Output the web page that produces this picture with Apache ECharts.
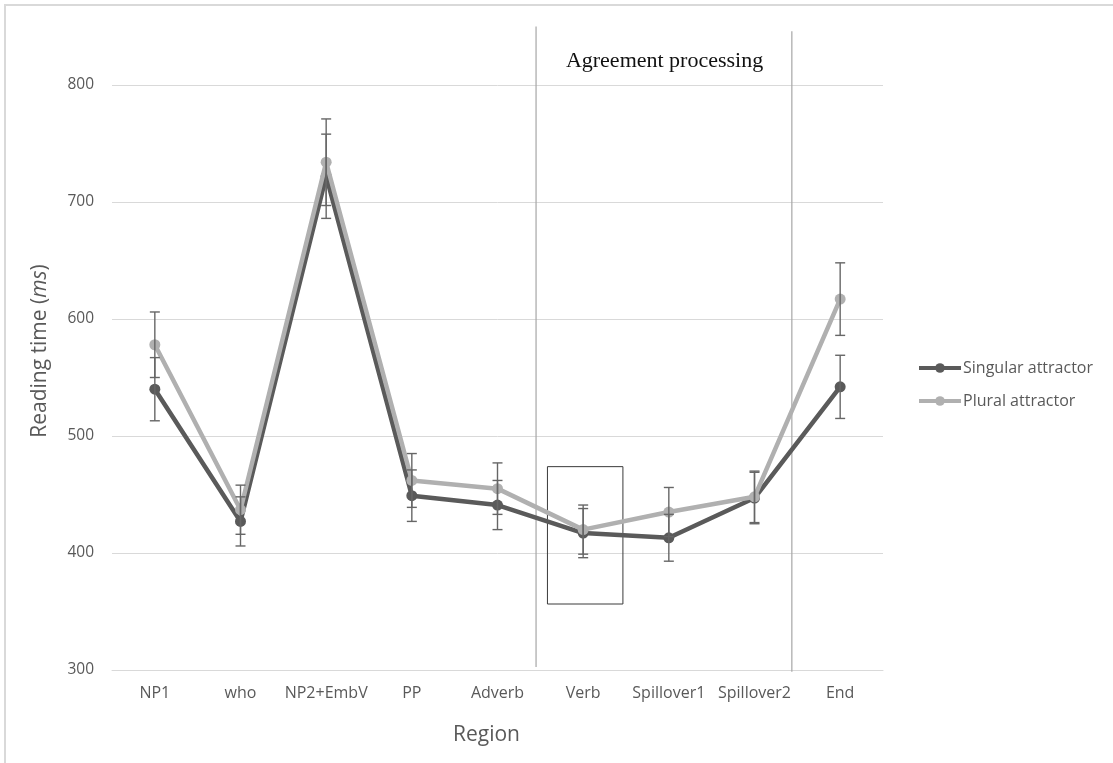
<!DOCTYPE html>
<html><head><meta charset="utf-8">
<script src="https://cdn.jsdelivr.net/npm/echarts@6/dist/echarts.min.js"></script>
<style>html,body{margin:0;padding:0;background:#fff}#c{width:1113px;height:763px}</style>
</head><body><div id="c"></div>
<script>
// ---- data ----
const categories = ['NP1', 'who', 'NP2+EmbV', 'PP', 'Adverb', 'Verb', 'Spillover1', 'Spillover2', 'End'];
const singularMeans = [540, 427, 722, 449, 441, 417, 413, 447, 542];
const singularErr   = [27, 21, 36, 22, 21, 21, 20, 22, 27];
const pluralMeans   = [578, 437, 734, 462, 455, 420, 435, 448, 617];
const pluralErr     = [28, 21, 37, 23, 22, 21, 21, 22, 31];
const yTicks = [300, 400, 500, 600, 700, 800];
const seriesNames = ['Singular attractor', 'Plural attractor'];

// ---- annotations (in category-index / ms units) ----
const dividerX = [4.45, 7.436];
const dividerTop = [850, 846];
const dividerBottom = [302.5, 298.5];
const boxRange = [4.583, 5.464, 356.4, 473.8];
const regionLabel = 'Agreement processing';
const regionLabelPos = [5.95, 820];

const FONT = "'Open Sans', 'Noto Sans', sans-serif";
const DARK = '#5a5a5a';
const LIGHT = '#b0b0b0';
const ERR = '#666666';

function errorData(means, errs) {
  return means.map((m, i) => [i, m - errs[i], m + errs[i]]);
}
function errorBarRender(params, api) {
  const x = api.value(0);
  const lo = api.coord([x, api.value(1)]);
  const hi = api.coord([x, api.value(2)]);
  const hw = 5;
  const style = { stroke: ERR, lineWidth: 1.4 };
  return { type: 'group', children: [
    { type: 'line', shape: { x1: hi[0], y1: hi[1], x2: lo[0], y2: lo[1] }, style },
    { type: 'line', shape: { x1: hi[0] - hw, y1: hi[1], x2: hi[0] + hw, y2: hi[1] }, style },
    { type: 'line', shape: { x1: lo[0] - hw, y1: lo[1], x2: lo[0] + hw, y2: lo[1] }, style }
  ]};
}

const chart = echarts.init(document.getElementById('c'));
const option = {
  animation: false,
  backgroundColor: '#ffffff',
  grid: { left: 112, right: 230, top: 85, bottom: 93, containLabel: false },
  legend: {
    data: seriesNames,
    orient: 'vertical',
    left: 912, top: 355,
    itemWidth: 42, itemHeight: 12, itemGap: 17,
    lineStyle: { width: 4 },
    textStyle: { fontSize: 16, color: '#595959', fontFamily: FONT, padding: [0, 0, 0, -3] }
  },
  xAxis: [{
    type: 'category', data: categories, boundaryGap: true,
    axisLine: { lineStyle: { color: '#d9d9d9', width: 1 } },
    axisTick: { show: false },
    axisLabel: { fontSize: 16, color: '#595959', fontFamily: FONT, margin: 15, interval: 0 },
    splitLine: { show: false },
    name: 'Region', nameLocation: 'middle', nameGap: 55,
    nameTextStyle: { fontSize: 21, color: '#595959', fontFamily: FONT, padding: [0, 22, 0, 0] }
  }, {
    type: 'value', min: -0.5, max: 8.5, show: false
  }],
  yAxis: {
    type: 'value', min: yTicks[0], max: yTicks[yTicks.length - 1], interval: yTicks[1] - yTicks[0],
    axisLine: { show: false }, axisTick: { show: false },
    axisLabel: { fontSize: 15.5, color: '#595959', fontFamily: FONT, margin: 18 },
    splitLine: { lineStyle: { color: '#d9d9d9', width: 1 } }
  },
  graphic: [
    { type: 'rect', silent: true, z: -10, shape: { x: 5, y: 5, width: 1300, height: 900 },
      style: { fill: 'none', stroke: '#d9d9d9', lineWidth: 2 } },
    { type: 'text', silent: true, x: 40, y: 351, rotation: Math.PI / 2,
      style: { text: 'Reading time ({i|ms})', fill: '#595959', fontSize: 21, fontFamily: FONT,
        align: 'center', verticalAlign: 'middle',
        rich: { i: { fontStyle: 'italic', fontSize: 21, fontFamily: FONT, fill: '#595959' } } } }
  ],
  series: [
    { name: seriesNames[0], type: 'line', data: singularMeans, z: 3,
      symbol: 'circle', symbolSize: 11, color: DARK,
      lineStyle: { width: 4.5, color: DARK }, itemStyle: { color: DARK },
      emphasis: { disabled: true } },
    { name: seriesNames[1], type: 'line', data: pluralMeans, z: 4,
      symbol: 'circle', symbolSize: 11, color: LIGHT,
      lineStyle: { width: 4.5, color: LIGHT }, itemStyle: { color: LIGHT },
      emphasis: { disabled: true } },
    { type: 'custom', name: 'errS', data: errorData(singularMeans, singularErr), z: 5,
      encode: { x: 0, y: [1, 2] }, renderItem: errorBarRender, silent: true },
    { type: 'custom', name: 'errP', data: errorData(pluralMeans, pluralErr), z: 5,
      encode: { x: 0, y: [1, 2] }, renderItem: errorBarRender, silent: true },
    { type: 'custom', name: 'dividers', xAxisIndex: 1, clip: false, silent: true, z: 1,
      data: dividerX.map((x, i) => [x, dividerBottom[i], dividerTop[i]]),
      encode: { x: 0, y: [1, 2] },
      renderItem: function (params, api) {
        const a = api.coord([api.value(0), api.value(1)]);
        const b = api.coord([api.value(0), api.value(2)]);
        return { type: 'line', shape: { x1: a[0], y1: a[1], x2: b[0], y2: b[1] },
          style: { stroke: '#a6a6a6', lineWidth: 1.2 } };
      } },
    { type: 'custom', name: 'box', xAxisIndex: 1, clip: false, silent: true, z: 2,
      data: [boxRange], encode: { x: [0, 1], y: [2, 3] },
      renderItem: function (params, api) {
        const p1 = api.coord([api.value(0), api.value(3)]);
        const p2 = api.coord([api.value(1), api.value(2)]);
        return { type: 'rect', shape: { x: p1[0], y: p1[1], width: p2[0] - p1[0], height: p2[1] - p1[1] },
          style: { fill: 'none', stroke: '#3a3a3a', lineWidth: 1 } };
      } },
    { type: 'custom', name: 'label', xAxisIndex: 1, clip: false, silent: true, z: 2,
      data: [regionLabelPos], encode: { x: 0, y: 1 },
      renderItem: function (params, api) {
        const p = api.coord([api.value(0), api.value(1)]);
        return { type: 'text', x: p[0], y: p[1],
          style: { text: regionLabel, fill: '#111', fontSize: 22,
            fontFamily: "'Liberation Serif', 'DejaVu Serif', serif",
            align: 'center', verticalAlign: 'middle' } };
      } }
  ]
};
chart.setOption(option);
</script></body></html>
